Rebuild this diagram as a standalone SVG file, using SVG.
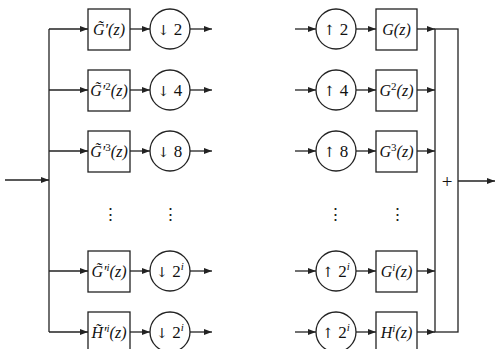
<svg xmlns="http://www.w3.org/2000/svg" width="496" height="349" viewBox="0 0 496 349">
<style>
.ln{stroke:#222;stroke-width:1.3;fill:none}
.bx{stroke:#222;stroke-width:1.3;fill:#fff}
.t{font-family:"Liberation Serif",serif;font-style:italic;font-size:16px;fill:#111;text-anchor:middle}
.c{font-family:"Liberation Serif","DejaVu Serif",serif;font-size:17px;fill:#111;text-anchor:middle}
.ar{font-family:"DejaVu Serif",serif;font-size:14px}
.d{font-family:"DejaVu Serif",serif;font-size:17px;fill:#222;text-anchor:middle}
</style>
<defs>
<marker id="ah" viewBox="0 0 8 6" refX="8" refY="3" markerWidth="8" markerHeight="6" markerUnits="userSpaceOnUse" orient="auto">
<path d="M0,0 L8,3 L0,6 z" fill="#222"/>
</marker>
</defs>
<rect width="496" height="349" fill="#fff"/>
<g id="connectors">
<path class="ln" d="M5,180 H49" marker-end="url(#ah)"/>
<path class="ln" d="M49,29 V332"/>
<path class="ln" d="M49,29 H88" marker-end="url(#ah)"/>
<path class="ln" d="M49,90 H88" marker-end="url(#ah)"/>
<path class="ln" d="M49,151 H88" marker-end="url(#ah)"/>
<path class="ln" d="M49,271 H88" marker-end="url(#ah)"/>
<path class="ln" d="M49,332 H88" marker-end="url(#ah)"/>
<path class="ln" d="M130,29 H150" marker-end="url(#ah)"/>
<path class="ln" d="M130,90 H150" marker-end="url(#ah)"/>
<path class="ln" d="M130,151 H150" marker-end="url(#ah)"/>
<path class="ln" d="M130,271 H150" marker-end="url(#ah)"/>
<path class="ln" d="M130,332 H150" marker-end="url(#ah)"/>
<path class="ln" d="M190,29 H212" marker-end="url(#ah)"/>
<path class="ln" d="M190,90 H212" marker-end="url(#ah)"/>
<path class="ln" d="M190,151 H212" marker-end="url(#ah)"/>
<path class="ln" d="M190,271 H212" marker-end="url(#ah)"/>
<path class="ln" d="M190,332 H212" marker-end="url(#ah)"/>
<path class="ln" d="M295,29 H316" marker-end="url(#ah)"/>
<path class="ln" d="M295,90 H316" marker-end="url(#ah)"/>
<path class="ln" d="M295,151 H316" marker-end="url(#ah)"/>
<path class="ln" d="M295,271 H316" marker-end="url(#ah)"/>
<path class="ln" d="M295,332 H316" marker-end="url(#ah)"/>
<path class="ln" d="M356,29 H376" marker-end="url(#ah)"/>
<path class="ln" d="M356,90 H376" marker-end="url(#ah)"/>
<path class="ln" d="M356,151 H376" marker-end="url(#ah)"/>
<path class="ln" d="M356,271 H376" marker-end="url(#ah)"/>
<path class="ln" d="M356,332 H376" marker-end="url(#ah)"/>
<path class="ln" d="M417,29 H435" marker-end="url(#ah)"/>
<path class="ln" d="M417,90 H435" marker-end="url(#ah)"/>
<path class="ln" d="M417,151 H435" marker-end="url(#ah)"/>
<path class="ln" d="M417,271 H435" marker-end="url(#ah)"/>
<path class="ln" d="M417,332 H435" marker-end="url(#ah)"/>
<path class="ln" d="M458,181 H495" marker-end="url(#ah)"/>
</g>
<g id="sum">
<rect class="ln" x="435" y="29" width="23" height="303"/>
<text class="c" x="447" y="188" style="font-size:19px">+</text>
</g>
<g id="a1"><rect class="bx" x="88" y="9" width="42" height="41"/><text class="t" x="109" y="35">G&#x303;′(z)</text></g>
<g id="a2"><rect class="bx" x="88" y="70" width="42" height="41"/><text class="t" x="109" y="96">G&#x303;′<tspan font-size="11" dy="-6" font-style="normal">2</tspan><tspan dy="6">(z)</tspan></text></g>
<g id="a3"><rect class="bx" x="88" y="131" width="42" height="41"/><text class="t" x="109" y="157">G&#x303;′<tspan font-size="11" dy="-6" font-style="normal">3</tspan><tspan dy="6">(z)</tspan></text></g>
<g id="a4"><rect class="bx" x="88" y="251" width="42" height="41"/><text class="t" x="109" y="277">G&#x303;′<tspan font-size="11" dy="-6">i</tspan><tspan dy="6">(z)</tspan></text></g>
<g id="a5"><rect class="bx" x="88" y="312" width="42" height="41"/><text class="t" x="109" y="338">H&#x303;′<tspan font-size="11" dy="-6">i</tspan><tspan dy="6">(z)</tspan></text></g>
<g id="d1"><circle class="bx" cx="170" cy="29" r="20"/><text class="c" x="170" y="35"><tspan class="ar">↓</tspan> 2</text></g>
<g id="d2"><circle class="bx" cx="170" cy="90" r="20"/><text class="c" x="170" y="96"><tspan class="ar">↓</tspan> 4</text></g>
<g id="d3"><circle class="bx" cx="170" cy="151" r="20"/><text class="c" x="170" y="157"><tspan class="ar">↓</tspan> 8</text></g>
<g id="d4"><circle class="bx" cx="170" cy="271" r="20"/><text class="c" x="170" y="277"><tspan class="ar">↓</tspan> 2<tspan font-size="11" dy="-7" font-style="italic">i</tspan></text></g>
<g id="d5"><circle class="bx" cx="170" cy="332" r="20"/><text class="c" x="170" y="338"><tspan class="ar">↓</tspan> 2<tspan font-size="11" dy="-7" font-style="italic">i</tspan></text></g>
<g id="u1"><circle class="bx" cx="336" cy="29" r="20"/><text class="c" x="336" y="35"><tspan class="ar">↑</tspan> 2</text></g>
<g id="u2"><circle class="bx" cx="336" cy="90" r="20"/><text class="c" x="336" y="96"><tspan class="ar">↑</tspan> 4</text></g>
<g id="u3"><circle class="bx" cx="336" cy="151" r="20"/><text class="c" x="336" y="157"><tspan class="ar">↑</tspan> 8</text></g>
<g id="u4"><circle class="bx" cx="336" cy="271" r="20"/><text class="c" x="336" y="277"><tspan class="ar">↑</tspan> 2<tspan font-size="11" dy="-7" font-style="italic">i</tspan></text></g>
<g id="u5"><circle class="bx" cx="336" cy="332" r="20"/><text class="c" x="336" y="338"><tspan class="ar">↑</tspan> 2<tspan font-size="11" dy="-7" font-style="italic">i</tspan></text></g>
<g id="s1"><rect class="bx" x="376" y="9" width="41" height="41"/><text class="t" x="396.5" y="35">G(z)</text></g>
<g id="s2"><rect class="bx" x="376" y="70" width="41" height="41"/><text class="t" x="396.5" y="96">G<tspan font-size="11" dy="-6" font-style="normal">2</tspan><tspan dy="6">(z)</tspan></text></g>
<g id="s3"><rect class="bx" x="376" y="131" width="41" height="41"/><text class="t" x="396.5" y="157">G<tspan font-size="11" dy="-6" font-style="normal">3</tspan><tspan dy="6">(z)</tspan></text></g>
<g id="s4"><rect class="bx" x="376" y="251" width="41" height="41"/><text class="t" x="396.5" y="277">G<tspan font-size="11" dy="-6">i</tspan><tspan dy="6">(z)</tspan></text></g>
<g id="s5"><rect class="bx" x="376" y="312" width="41" height="41"/><text class="t" x="396.5" y="338">H<tspan font-size="11" dy="-6">i</tspan><tspan dy="6">(z)</tspan></text></g>
<g id="dots">
<text class="d" x="110" y="220">⋮</text>
<text class="d" x="170" y="220">⋮</text>
<text class="d" x="335" y="220">⋮</text>
<text class="d" x="397" y="220">⋮</text>
</g>
</svg>
